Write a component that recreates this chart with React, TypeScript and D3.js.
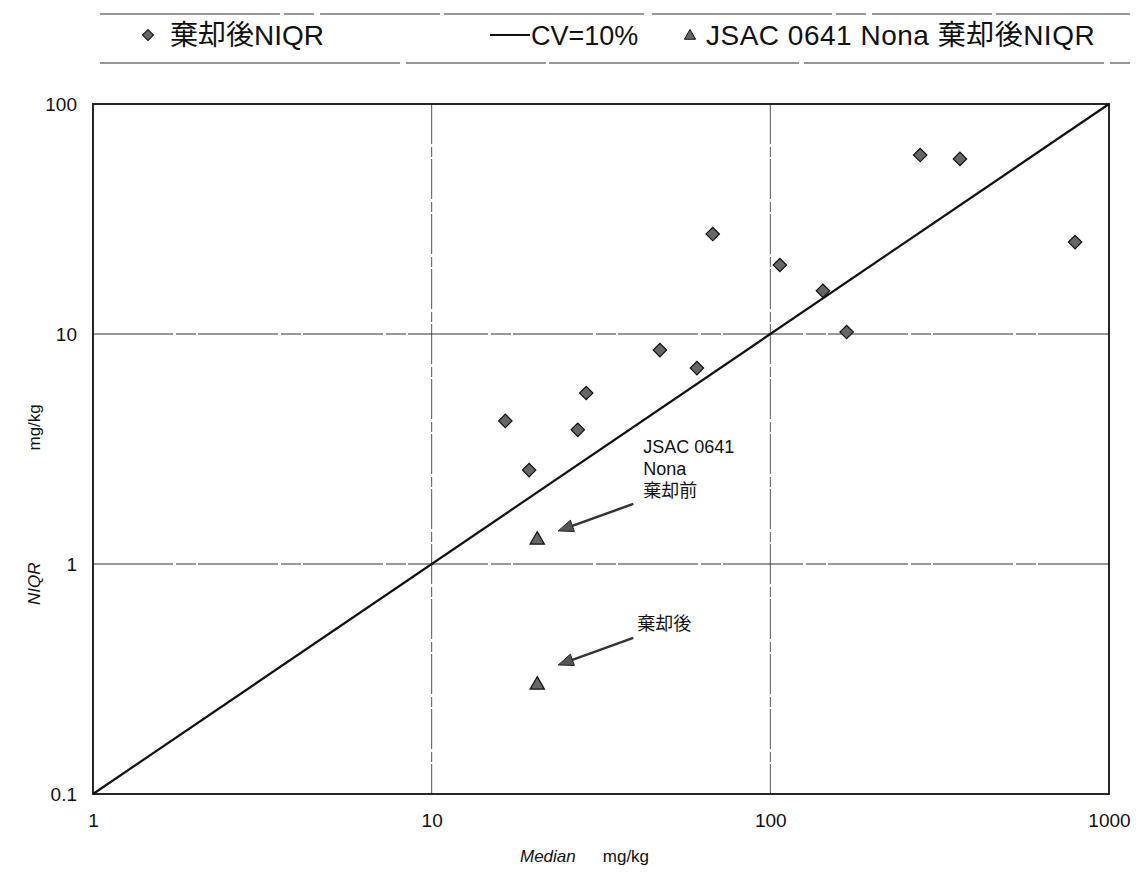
import React, {useRef, useEffect} from 'react';
import * as d3 from 'd3';

// 棄却後NIQR data (Median, NIQR) mg/kg
const medianValues = [16.5, 19.4, 27.0, 28.6, 47.2, 60.7, 67.6, 106.7, 143, 168, 277, 363, 794];
const niqrValues = [4.19, 2.56, 3.83, 5.54, 8.51, 7.11, 27.2, 19.95, 15.4, 10.2, 60, 57.7, 25.1];

// JSAC 0641 Nona points (before / after rejection)
const jsacMedian = [20.5, 20.5];
const jsacNiqr = [1.26, 0.295];
const jsacLabels = [['JSAC 0641', 'Nona', '棄却前'], ['棄却後']];

// CV=10% line
const cvLineX = [1, 1000];
const cvRatio = 0.1;

const xTicks = [1, 10, 100, 1000];
const yTicks = [0.1, 1, 10, 100];

const legendLabels = ['棄却後NIQR', 'CV=10%', 'JSAC 0641 Nona 棄却後NIQR'];

const FONT = '"Liberation Sans", Arial, "Noto Sans CJK JP", sans-serif';

function App() {
  const ref = useRef<SVGSVGElement | null>(null);

  useEffect(() => {
    if (ref.current === null) return;
    const svg = d3.select(ref.current);
    svg.selectAll('*').remove();

    const margin = {left: 93, top: 104, right: 1138 - 1109, bottom: 875 - 794};
    const width = 1138 - margin.left - margin.right;
    const height = 875 - margin.top - margin.bottom;

    const x = d3.scaleLog().domain([1, 1000]).range([0, width]);
    const y = d3.scaleLog().domain([0.1, 100]).range([height, 0]);

    // legend
    const leg = svg.append('g').attr('font-family', FONT).attr('font-size', 27).attr('fill', '#111');
    leg.append('line').attr('x1', 100).attr('x2', 1130).attr('y1', 14).attr('y2', 14)
      .attr('stroke', '#333').attr('stroke-width', 1.2).attr('stroke-dasharray', '180 4 30 6 120 4 200 8');
    leg.append('line').attr('x1', 100).attr('x2', 1130).attr('y1', 63).attr('y2', 63)
      .attr('stroke', '#333').attr('stroke-width', 1.2).attr('stroke-dasharray', '300 6 140 3 250 5');
    leg.append('path').attr('d', d3.symbol(d3.symbolSquare, 60)()!)
      .attr('transform', 'translate(148,35) rotate(45)')
      .attr('fill', '#666').attr('stroke', '#111').attr('stroke-width', 1);
    leg.append('text').attr('x', 170).attr('y', 45).attr('font-size', 28).text(legendLabels[0]);
    leg.append('line').attr('x1', 490).attr('x2', 530).attr('y1', 35).attr('y2', 35)
      .attr('stroke', '#111').attr('stroke-width', 2);
    leg.append('text').attr('x', 531).attr('y', 45).text(legendLabels[1]);
    leg.append('path').attr('d', d3.symbol(d3.symbolTriangle, 55)()!)
      .attr('transform', 'translate(690,36)')
      .attr('fill', '#666').attr('stroke', '#111').attr('stroke-width', 1);
    leg.append('text').attr('x', 706).attr('y', 45).attr('font-size', 28).attr('letter-spacing', 0.5)
      .text(legendLabels[2]);

    const g = svg.append('g').attr('transform', 'translate(' + margin.left + ',' + margin.top + ')');

    // grid lines
    g.selectAll('.vgrid').data(xTicks.slice(1, -1)).enter().append('line')
      .attr('x1', d => x(d)).attr('x2', d => x(d)).attr('y1', 0).attr('y2', height)
      .attr('stroke', '#555').attr('stroke-width', 1).attr('stroke-dasharray', '40 3 10 2');
    g.selectAll('.hgrid').data(yTicks.slice(1, -1)).enter().append('line')
      .attr('x1', 0).attr('x2', width).attr('y1', d => y(d)).attr('y2', d => y(d))
      .attr('stroke', '#333').attr('stroke-width', 1).attr('stroke-dasharray', '80 3 20 2');

    // frame
    g.append('rect').attr('width', width).attr('height', height)
      .attr('fill', 'none').attr('stroke', '#111').attr('stroke-width', 1.8);

    // tick labels
    const xAxis = d3.axisBottom(x).tickValues(xTicks).tickFormat(d3.format('')).tickSize(0).tickPadding(20);
    const xg = g.append('g').attr('transform', 'translate(0,' + height + ')').call(xAxis);
    const yAxis = d3.axisLeft(y).tickValues(yTicks).tickFormat(d => String(d)).tickSize(0).tickPadding(16);
    const yg = g.append('g').call(yAxis);
    [xg, yg].forEach(a => {
      a.select('.domain').remove();
      a.selectAll('text').attr('font-family', FONT).attr('font-size', 19).attr('fill', '#111');
    });

    // CV=10% line
    const line = d3.line<number>().x(d => x(d)).y(d => y(d * cvRatio));
    g.append('path').datum(cvLineX).attr('d', line)
      .attr('fill', 'none').attr('stroke', '#111').attr('stroke-width', 2.2);

    // diamonds
    g.selectAll('.dot').data(medianValues).enter().append('path')
      .attr('d', d3.symbol(d3.symbolSquare, 90)()!)
      .attr('transform', (d, i) => 'translate(' + x(d) + ',' + y(niqrValues[i]) + ') rotate(45)')
      .attr('fill', '#666').attr('stroke', '#111').attr('stroke-width', 1.2);

    // JSAC triangles
    g.selectAll('.tri').data(jsacMedian).enter().append('path')
      .attr('d', d3.symbol(d3.symbolTriangle, 90)()!)
      .attr('transform', (d, i) => 'translate(' + x(d) + ',' + (y(jsacNiqr[i]) - 1) + ')')
      .attr('fill', '#666').attr('stroke', '#111').attr('stroke-width', 1.2);

    // annotations with arrows
    jsacMedian.forEach((d, i) => {
      const px = x(d), py = y(jsacNiqr[i]);
      const tipX = px + 21, tipY = py - 9 - (i === 0 ? 1 : 12);
      const tailX = px + 96, tailY = tipY - 27;
      const ang = Math.atan2(tipY - tailY, tipX - tailX);
      const hl = 15, hw = 6;
      const bx = tipX - hl * Math.cos(ang), by = tipY - hl * Math.sin(ang);
      g.append('line').attr('x1', tailX).attr('y1', tailY).attr('x2', bx).attr('y2', by)
        .attr('stroke', '#333').attr('stroke-width', 2.5);
      g.append('path')
        .attr('d', 'M' + tipX + ',' + tipY +
          'L' + (bx + hw * Math.sin(ang)) + ',' + (by - hw * Math.cos(ang)) +
          'L' + (bx - hw * Math.sin(ang)) + ',' + (by + hw * Math.cos(ang)) + 'Z')
        .attr('fill', '#555').attr('stroke', '#222').attr('stroke-width', 1);
      const lines = jsacLabels[i];
      const t = g.append('text').attr('font-family', FONT).attr('font-size', 18).attr('fill', '#111');
      const baseY = i === 0 ? tailY - 51 : tailY - 8;
      lines.forEach((s, k) => {
        t.append('tspan').attr('x', px + (i === 0 ? 106 : 100)).attr('y', baseY + k * 22).text(s);
      });
    });

    // axis titles
    const xt = svg.append('text').attr('x', 520).attr('y', 862)
      .attr('font-family', FONT).attr('font-size', 17).attr('fill', '#111');
    xt.append('tspan').attr('font-style', 'italic').text('Median');
    xt.append('tspan').attr('dx', 27).text('mg/kg');

    const yt = svg.append('text').attr('transform', 'translate(40,605) rotate(-90)')
      .attr('font-family', FONT).attr('font-size', 17).attr('fill', '#111');
    yt.append('tspan').attr('font-style', 'italic').text('NIQR');
    yt.append('tspan').attr('dx', 112).text('mg/kg');
  }, []);

  return (
    <svg ref={ref} width={1138} height={875}
      style={{position: 'absolute', left: 0, top: 0, background: '#fff'}} />
  );
}

export default App;
